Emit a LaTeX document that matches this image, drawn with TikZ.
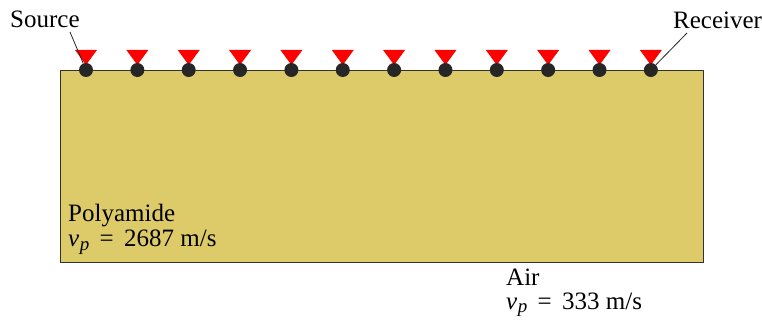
\documentclass[tikz,border=0pt]{standalone}
\usepackage{fontspec}
\setmainfont{Liberation Serif}
\newcommand{\vp}{\textit{v}\kern0.5pt\raisebox{-0.3ex}{\fontsize{19}{21}\selectfont\textit{p}}}
\definecolor{slab}{RGB}{221,203,106}
\definecolor{rim}{RGB}{50,50,50}
\begin{document}
\begin{tikzpicture}[x=1pt,y=-1pt,
  lbl/.style={font=\fontsize{25}{29}\selectfont, inner sep=0pt, anchor=base west},
  tri/.style={fill=red, draw=none},
  dot/.style={circle, fill=black!85, minimum size=14pt, inner sep=0pt},
  lead/.style={draw=black!85, line width=0.8pt}]
\useasboundingbox (0,0) rectangle (762,320);
\fill[white] (0,0) rectangle (762,320);
\node[draw=rim, line width=1.4pt, fill=slab, minimum width=643pt, minimum height=192pt, inner sep=0pt, anchor=north west] (slab) at (60,70) {};
\foreach \i in {0,...,11} {
  \pgfmathsetmacro{\xx}{86+\i*51.35}
  \fill[tri] (\xx-11,50) -- (\xx+11,50) -- (\xx,65) -- cycle;
  \node[dot] (d\i) at (\xx,70) {};
}
\node[lbl] (src) at (10,28) {Source};
\node[lbl] (rcv) at (673,29) {Receiver};
\coordinate (srcEnd) at (70,32);
\coordinate (rcvEnd) at (687,33);
\draw[lead] (srcEnd) -- (d0);
\draw[lead] (rcvEnd) -- (d11);
\node[lbl] (poly) at (68,222) {Polyamide};
\node[lbl] (polyv) at (68,247) {\vp\ \,=\, 2687 m/s};
\node[lbl] (air) at (506,285) {Air};
\node[lbl] (airv) at (506,309) {\vp\ \,=\, 333 m/s};
\end{tikzpicture}
\end{document}
